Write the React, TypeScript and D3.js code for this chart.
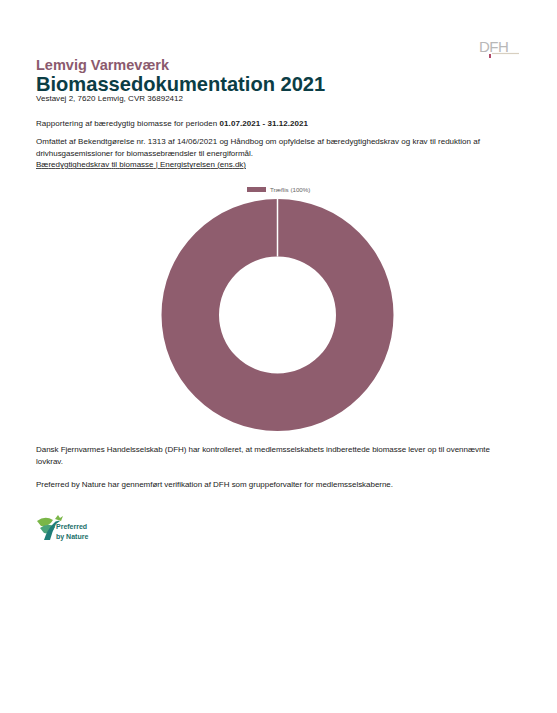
import React from "react";
import * as d3 from "d3";

const categories = ["Træflis"];
const shares = [100];
const colors = ["#8f5d6e"];

const W = 557;
const H = 713;

export default function App() {
  const cx = 277.5;
  const cy = 315;
  const outerR = 116;
  const innerR = 58.5;
  const pie = d3.pie<number>().sort(null)(shares);
  const arc = d3.arc<d3.PieArcDatum<number>>().innerRadius(innerR).outerRadius(outerR);
  const font = "'Liberation Sans', Arial, sans-serif";
  const txt = "#222";
  const fs = 8;
  return (
    <svg width={W} height={H} style={{ position: "absolute", left: 0, top: 0, background: "#fff" }} fontFamily={font}>
      {/* DFH logo */}
      <g>
        <text x={479} y={52} fontSize={15} fill="#b8b8b8" fontWeight={300} letterSpacing={-0.5}>DFH</text>
        <rect x={489} y={54} width={2} height={4} fill="#b04a6a" />
        <line x1={492} y1={53.5} x2={519} y2={53.5} stroke="#d8cfc0" strokeWidth={1.2} />
      </g>
      <text x={36} y={70} fontSize={14.5} fontWeight="bold" fill="#8b5a6e">Lemvig Varmeværk</text>
      <text x={36} y={91} fontSize={20.1} fontWeight="bold" fill="#0b3d45">Biomassedokumentation 2021</text>
      <text x={36} y={101} fontSize={fs} fill={txt} textLength={147} lengthAdjust="spacing">Vestavej 2, 7620 Lemvig, CVR 36892412</text>
      <text x={36} y={126} fontSize={fs} fill={txt} textLength={272} lengthAdjust="spacing">
        Rapportering af bæredygtig biomasse for perioden <tspan fontWeight="bold">01.07.2021 - 31.12.2021</tspan>
      </text>
      <text x={36} y={144} fontSize={fs} fill={txt} textLength={444} lengthAdjust="spacing">Omfattet af Bekendtgørelse nr. 1313 af 14/06/2021 og Håndbog om opfyldelse af bæredygtighedskrav og krav til reduktion af</text>
      <text x={36} y={156} fontSize={fs} fill={txt} textLength={217} lengthAdjust="spacing">drivhusgasemissioner for biomassebrændsler til energiformål.</text>
      <text x={36} y={167} fontSize={fs} fill={txt} textDecoration="underline" textLength={210} lengthAdjust="spacing">Bæredygtighedskrav til biomasse | Energistyrelsen (ens.dk)</text>

      {/* legend */}
      {categories.map((c, i) => (
        <g key={c}>
          <rect x={247} y={187} width={19} height={5} fill={colors[i]} />
          <text x={270} y={192} fontSize={6.2} fill="#666">{`${c} (${shares[i]}%)`}</text>
        </g>
      ))}

      {/* donut */}
      <g transform={`translate(${cx},${cy})`}>
        {pie.map((d, i) => (
          <path key={i} d={arc(d) || ""} fill={colors[i]} />
        ))}
        {pie.map((d, i) => (
          <line
            key={"b" + i}
            x1={Math.sin(d.startAngle) * innerR}
            y1={-Math.cos(d.startAngle) * innerR}
            x2={Math.sin(d.startAngle) * outerR}
            y2={-Math.cos(d.startAngle) * outerR}
            stroke="#fff"
            strokeWidth={1.5}
          />
        ))}
      </g>

      <text x={36} y={452} fontSize={fs} fill={txt} textLength={454} lengthAdjust="spacing">Dansk Fjernvarmes Handelsselskab (DFH) har kontrolleret, at medlemsselskabets indberettede biomasse lever op til ovennævnte</text>
      <text x={36} y={464} fontSize={fs} fill={txt}>lovkrav.</text>
      <text x={36} y={487} fontSize={fs} fill={txt} textLength={357} lengthAdjust="spacing">Preferred by Nature har gennemført verifikation af DFH som gruppeforvalter for medlemsselskaberne.</text>

      {/* Preferred by Nature logo */}
      <g>
        <path d="M37,521 Q45,515 53,520 Q49,527 41,526 Z" fill="#7ab648" />
        <path d="M40,528 Q48,522 55,527 Q51,535 44,533 Z" fill="#4aa37a" />
        <path d="M44,540 Q47,530 53,524 Q56,520 60,521 L56,524 Q52,532 50,540 Z" fill="#1f7d78" />
        <path d="M55,519 L58,515 L60,518 L63,516 L61,521 Z" fill="#7ab648" />
        <text x={56} y={529} fontSize={7} fontWeight="bold" fill="#1a6f6a">Preferred</text>
        <text x={56} y={539} fontSize={7} fontWeight="bold" fill="#1a6f6a">by Nature</text>
      </g>
    </svg>
  );
}
